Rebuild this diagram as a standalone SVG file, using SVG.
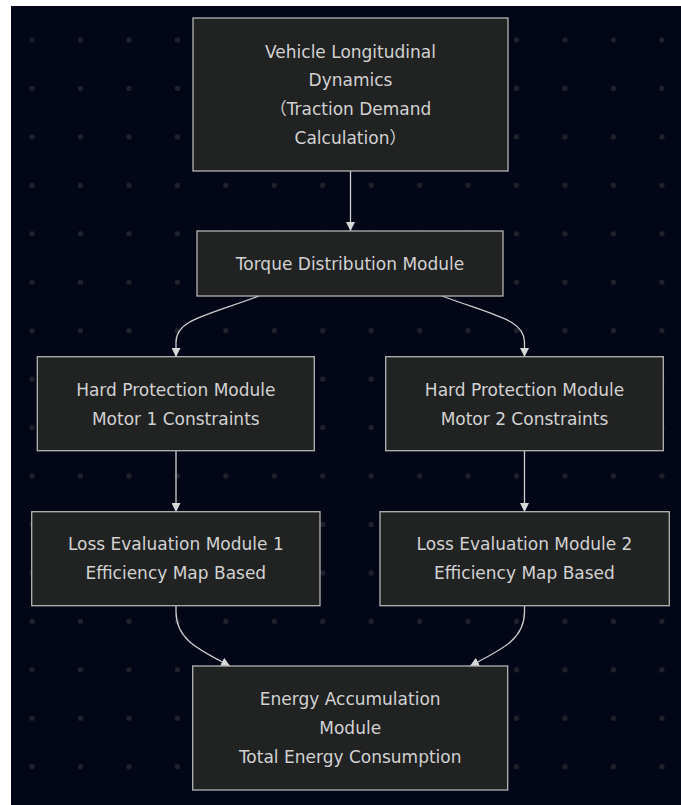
<svg xmlns="http://www.w3.org/2000/svg" width="681" height="805" viewBox="0 0 681 805">
<style>
.node rect{fill:#212222;stroke:#b4b4b4;stroke-width:1.3}
.node text{fill:#d2d2d2;font-family:"DejaVu Sans","Noto Sans CJK SC",sans-serif;font-size:17px;text-anchor:middle;dominant-baseline:central}
.edge{fill:none;stroke:#cfcfcf;stroke-width:1.3}
</style>
<defs>
<pattern id="dots" patternUnits="userSpaceOnUse" x="7.8" y="15.8" width="48.45" height="48.45">
<circle cx="24.22" cy="24.22" r="2.6" fill="#1f222a"/>
</pattern>
<marker id="arr" viewBox="0 0 10 10" refX="10" refY="5" markerWidth="9" markerHeight="9" markerUnits="userSpaceOnUse" orient="auto">
<path d="M0,0 L10,5 L0,10 z" fill="#d8d8d8"/>
</marker>
</defs>
<rect x="0" y="0" width="681" height="805" fill="#ffffff"/>
<rect x="11" y="6" width="670" height="799" fill="#020617"/>
<rect x="11" y="6" width="670" height="799" fill="url(#dots)"/>
<g id="connectors">
<path class="edge" d="M350.5,171 L350.5,231" marker-end="url(#arr)"/>
<path class="edge" d="M259,296 C205,316 176,320 176,342 L176,357" marker-end="url(#arr)"/>
<path class="edge" d="M442,296 C496,316 524.5,320 524.5,342 L524.5,357" marker-end="url(#arr)"/>
<path class="edge" d="M176,451 L176,512" marker-end="url(#arr)"/>
<path class="edge" d="M524.5,451 L524.5,512" marker-end="url(#arr)"/>
<path class="edge" d="M176,606 L176,612 C176,640 200,650 230,666" marker-end="url(#arr)"/>
<path class="edge" d="M524.5,606 L524.5,612 C524.5,640 500,650 470,666" marker-end="url(#arr)"/>
</g>
<g id="vehicle" class="node">
<rect x="193" y="18" width="315" height="153"/>
<text x="350.5" y="51.7">Vehicle Longitudinal</text>
<text x="350.5" y="80.4">Dynamics</text>
<text x="350.5" y="109">（Traction Demand</text>
<text x="350.5" y="137.7">Calculation）</text>
</g>
<g id="torque" class="node">
<rect x="197" y="231" width="306" height="65"/>
<text x="350" y="263.7">Torque Distribution Module</text>
</g>
<g id="hp1" class="node">
<rect x="37.3" y="356.7" width="277" height="94"/>
<text x="175.8" y="390">Hard Protection Module</text>
<text x="175.8" y="419.3">Motor 1 Constraints</text>
</g>
<g id="hp2" class="node">
<rect x="385.7" y="356.7" width="277.6" height="94"/>
<text x="524.5" y="390">Hard Protection Module</text>
<text x="524.5" y="419.3">Motor 2 Constraints</text>
</g>
<g id="le1" class="node">
<rect x="31.7" y="511.7" width="288.3" height="94"/>
<text x="175.8" y="544.3">Loss Evaluation Module 1</text>
<text x="175.8" y="573.3">Efficiency Map Based</text>
</g>
<g id="le2" class="node">
<rect x="380" y="511.7" width="289.3" height="94"/>
<text x="524.5" y="544.3">Loss Evaluation Module 2</text>
<text x="524.5" y="573.3">Efficiency Map Based</text>
</g>
<g id="energy" class="node">
<rect x="192.7" y="666" width="315" height="124"/>
<text x="350.2" y="699">Energy Accumulation</text>
<text x="350.2" y="727.7">Module</text>
<text x="350.2" y="756.7">Total Energy Consumption</text>
</g>
</svg>
